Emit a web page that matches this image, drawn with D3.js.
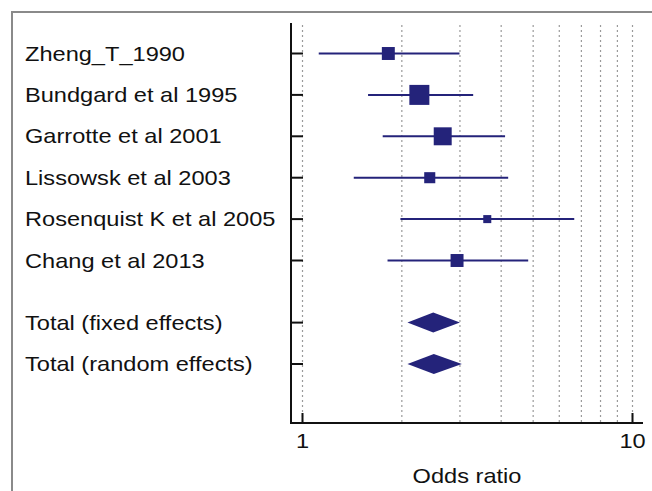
<!DOCTYPE html>
<head>
  <meta charset="utf-8" />
  <script src="https://d3js.org/d3.v7.min.js"></script>
  <style>
    body {
      margin: 0;
      background: #fff;
    }
    text {
      font-family: "Liberation Sans", Arial, sans-serif;
      fill: #111;
    }
  </style>
</head>

<body>
  <script>
    // studies (odds ratio, 95% CI, weight in %)
    var studies = ["Zheng_T_1990", "Bundgard et al 1995", "Garrotte et al 2001",
      "Lissowsk et al 2003", "Rosenquist K et al 2005", "Chang et al 2013"];
    var oddsRatio = [1.82, 2.26, 2.66, 2.43, 3.63, 2.94];
    var lower = [1.12, 1.58, 1.75, 1.43, 1.98, 1.81];
    var upper = [2.99, 3.29, 4.11, 4.20, 6.66, 4.83];
    var weight = [13, 31, 25, 9.5, 5, 13];
    var rowIndex = [0, 1, 2, 3, 4, 5];

    // pooled estimates
    var totals = ["Total (fixed effects)", "Total (random effects)"];
    var totalOR = [2.49, 2.50];
    var totalLower = [2.08, 2.08];
    var totalUpper = [3.00, 3.04];
    var totalRow = [6.5, 7.5];

    var xTicks = [1, 2, 3, 4, 5, 6, 7, 8, 9, 10];
    var xLabels = [1, 10];

    var width = 652,
      height = 491;

    var svg = d3.select("body").append("svg")
      .attr("width", width)
      .attr("height", height);

    // the picture is stretched horizontally, so text is widened too
    var stretch = 1.18;
    function place(px, py) {
      return "translate(" + px + "," + py + ") scale(" + stretch + ",1)";
    }

    // cadre gris
    svg.append("rect")
      .attr("x", 12).attr("y", 12)
      .attr("width", 660).attr("height", 500)
      .attr("fill", "none")
      .attr("stroke", "#8a8a8a")
      .attr("stroke-width", 2);

    var x = d3.scaleLog().domain([1, 10]).range([302.5, 632.5]);
    var y = d3.scaleLinear().domain([0, 1]).range([53.5, 94.9]);
    var size = d3.scaleSqrt().domain([0, 31]).range([0, 20]);

    var axisX0 = 291, axisX1 = 643, axisTop = 23, axisBottom = 423;
    var navy = "#24237a";

    // grille pointillee
    svg.selectAll(".grid")
      .data(xTicks)
      .join("line")
      .attr("class", "grid")
      .attr("x1", d => x(d)).attr("x2", d => x(d))
      .attr("y1", 25).attr("y2", axisBottom)
      .attr("stroke", "#9a9a9a")
      .attr("stroke-width", 1.2)
      .attr("stroke-dasharray", "2,3");

    // axes
    svg.append("line")
      .attr("x1", axisX0).attr("x2", axisX0)
      .attr("y1", axisTop).attr("y2", axisBottom + 1)
      .attr("stroke", "#111").attr("stroke-width", 2);
    svg.append("line")
      .attr("x1", axisX0).attr("x2", axisX1)
      .attr("y1", axisBottom).attr("y2", axisBottom)
      .attr("stroke", "#111").attr("stroke-width", 2);

    var allRows = rowIndex.concat(totalRow);
    svg.selectAll(".ytick")
      .data(allRows)
      .join("line")
      .attr("class", "ytick")
      .attr("x1", axisX0).attr("x2", axisX0 + 12)
      .attr("y1", d => y(d)).attr("y2", d => y(d))
      .attr("stroke", "#111").attr("stroke-width", 2);

    svg.selectAll(".xtick")
      .data(xLabels)
      .join("line")
      .attr("class", "xtick")
      .attr("x1", d => x(d)).attr("x2", d => x(d))
      .attr("y1", axisBottom - 10).attr("y2", axisBottom)
      .attr("stroke", "#111").attr("stroke-width", 2);

    svg.selectAll(".xlabel")
      .data(xLabels)
      .join("text")
      .attr("class", "xlabel")
      .attr("transform", d => place(x(d), 448))
      .attr("text-anchor", "middle")
      .attr("font-size", 20)
      .text(d => d);

    svg.append("text")
      .attr("transform", place((axisX0 + axisX1) / 2, 483))
      .attr("text-anchor", "middle")
      .attr("font-size", 20)
      .text("Odds ratio");

    // noms des etudes
    svg.selectAll(".label")
      .data(studies.concat(totals))
      .join("text")
      .attr("class", "label")
      .attr("transform", (d, i) => place(25, y(allRows[i]) + 7))
      .attr("font-size", 20)
      .text(d => d);

    // intervalles
    svg.selectAll(".ci")
      .data(rowIndex)
      .join("line")
      .attr("class", "ci")
      .attr("x1", (d, i) => x(lower[i])).attr("x2", (d, i) => x(upper[i]))
      .attr("y1", d => y(d)).attr("y2", d => y(d))
      .attr("stroke", navy).attr("stroke-width", 2);

    svg.selectAll(".box")
      .data(rowIndex)
      .join("rect")
      .attr("class", "box")
      .attr("x", (d, i) => x(oddsRatio[i]) - size(weight[i]) / 2)
      .attr("y", (d, i) => y(d) - size(weight[i]) / 2)
      .attr("width", (d, i) => size(weight[i]))
      .attr("height", (d, i) => size(weight[i]))
      .attr("fill", navy);

    // losanges
    svg.selectAll(".diamond")
      .data(totalRow)
      .join("path")
      .attr("class", "diamond")
      .attr("d", function (d, i) {
        var cy = y(d);
        return "M" + x(totalLower[i]) + "," + cy +
          "L" + x(totalOR[i]) + "," + (cy - 10) +
          "L" + x(totalUpper[i]) + "," + cy +
          "L" + x(totalOR[i]) + "," + (cy + 10) + "Z";
      })
      .attr("fill", navy);
  </script>
</body>
